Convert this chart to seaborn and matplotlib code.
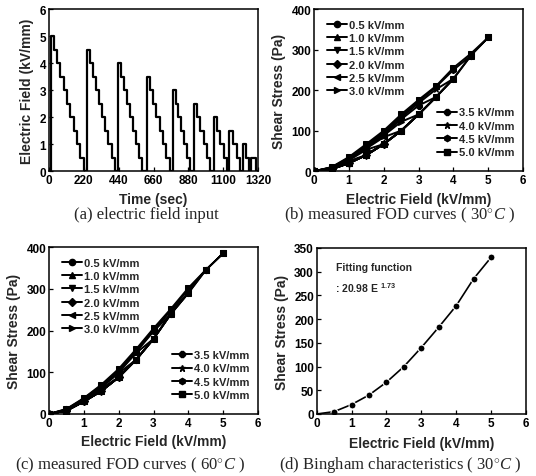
import matplotlib.pyplot as plt
import numpy as np
import pandas as pd
import seaborn as sns
from matplotlib.lines import Line2D

# (a) electric field input: staircase cycles
cycle_peak = [5.0, 4.5, 4.0, 3.5, 3.0, 2.5, 2.0, 1.5, 1.0, 0.5]
cycle_on = [10, 237, 436, 617, 782, 914, 1040, 1139, 1222, 1277]
cycle_off = [218, 415, 589, 761, 889, 1019, 1124, 1208, 1266, 1308]

# field levels for the FOD curves
field_levels = [0.0, 0.5, 1.0, 1.5, 2.0, 2.5, 3.0, 3.5, 4.0, 4.5, 5.0]
curve_fields = [0.5, 1.0, 1.5, 2.0, 2.5, 3.0, 3.5, 4.0, 4.5, 5.0]
curve_labels = ['0.5 kV/mm', '1.0 kV/mm', '1.5 kV/mm', '2.0 kV/mm', '2.5 kV/mm',
                '3.0 kV/mm', '3.5 kV/mm', '4.0 kV/mm', '4.5 kV/mm', '5.0 kV/mm']
curve_markers = ['o', '^', 'v', 'D', '<', '>', '8', '*', 'h', 's']

# (b) 30 C: rising branch (envelope) and falling branches (peak -> 0)
rise_30 = [0, 5, 20, 40, 67, 100, 140, 183, 228, 285, 330]
fall_30 = [
    [5, 0],
    [20, 6, 0],
    [40, 25, 7, 0],
    [67, 53, 27, 8, 0],
    [100, 84, 56, 29, 8, 0],
    [140, 122, 88, 58, 30, 8, 0],
    [183, 162, 128, 91, 60, 31, 9, 0],
    [228, 202, 168, 132, 94, 62, 32, 9, 0],
    [285, 250, 208, 172, 136, 97, 64, 33, 9, 0],
    [330, 290, 255, 210, 176, 140, 100, 67, 35, 10, 0],
]

# (c) 60 C
rise_60 = [0, 8, 30, 55, 88, 130, 180, 240, 290, 345, 385]
fall_60 = [
    [8, 0],
    [30, 9, 0],
    [55, 31, 9, 0],
    [88, 61, 32, 9, 0],
    [130, 98, 63, 33, 10, 0],
    [180, 146, 100, 65, 34, 10, 0],
    [240, 198, 148, 102, 66, 35, 10, 0],
    [290, 248, 200, 150, 104, 67, 36, 11, 0],
    [345, 298, 250, 202, 152, 105, 68, 37, 11, 0],
    [385, 345, 302, 252, 205, 155, 108, 70, 38, 12, 0],
]

# (d) Bingham characteristics 30 C
bingham_field = [0.0, 0.5, 1.0, 1.5, 2.0, 2.5, 3.0, 3.5, 4.0, 4.5, 5.0]
bingham_stress = [0, 5, 20, 40, 67, 100, 140, 183, 228, 285, 330]

sns.set_theme(style='ticks')
plt.rcParams['font.family'] = ['Liberation Sans', 'DejaVu Sans']
plt.rcParams['font.weight'] = 'bold'
plt.rcParams['axes.labelweight'] = 'bold'
plt.rcParams['mathtext.fontset'] = 'custom'
plt.rcParams['mathtext.rm'] = 'Liberation Serif:weight=normal'
plt.rcParams['mathtext.it'] = 'Liberation Serif:style=italic:weight=normal'
plt.rcParams['mathtext.sf'] = 'Liberation Sans:weight=bold'

fig = plt.figure(figsize=(5.36, 4.77), dpi=100)
ax_a = fig.add_axes([0.0914, 0.639, 0.39, 0.340])
ax_b = fig.add_axes([0.586, 0.639, 0.39, 0.340])
ax_c = fig.add_axes([0.0914, 0.130, 0.39, 0.350])
ax_d = fig.add_axes([0.591, 0.130, 0.39, 0.348])


def style_axes(ax):
    for s in ax.spines.values():
        s.set_color('black')
        s.set_linewidth(1.1)
    ax.tick_params(direction='in', length=3, width=0.9, labelsize=8.5,
                   pad=2, colors='black')


# ---- (a) staircase
t_pts, e_pts = [0], [0.0]
for peak, t_on, t_off in zip(cycle_peak, cycle_on, cycle_off):
    n = int(round(peak / 0.5))
    edges = np.linspace(t_on, t_off, n + 1)
    for k in range(n):
        t_pts.append(edges[k])
        e_pts.append(peak - 0.5 * k)
    t_pts.append(t_off)
    e_pts.append(0.0)
t_pts.append(1320)
e_pts.append(0.0)
df_a = pd.DataFrame({'t': t_pts, 'E': e_pts})
sns.lineplot(data=df_a, x='t', y='E', sort=False, estimator=None,
             drawstyle='steps-post', color='black', lw=1.6, ax=ax_a)
ax_a.set_xlim(0, 1320)
ax_a.set_ylim(0, 6)
ax_a.set_xticks([0, 220, 440, 660, 880, 1100, 1320])
ax_a.set_yticks(range(7))
ax_a.set_xlabel('Time (sec)', fontsize=10, labelpad=4)
ax_a.set_ylabel('Electric Field (kV/mm)', fontsize=10, labelpad=4)
style_axes(ax_a)


# ---- (b), (c) FOD curves
def draw_fod(ax, rise, falls, ymax):
    for i, peak in enumerate(curve_fields):
        n = field_levels.index(peak)
        xs = field_levels[:n + 1] + field_levels[n::-1]
        ys = rise[:n + 1] + falls[i]
        df = pd.DataFrame({'E': xs, 'tau': ys})
        sns.lineplot(data=df, x='E', y='tau', sort=False, estimator=None,
                     color='black', lw=1.4, marker=curve_markers[i],
                     markersize=4.5, markeredgecolor='black', ax=ax)
    h = [Line2D([], [], color='black', lw=1.4, marker=m, markersize=4.5)
         for m in curve_markers]
    leg_kw = dict(frameon=False, prop={'size': 8, 'weight': 'bold'},
                  handlelength=1.8, handletextpad=0.15, labelspacing=0.3,
                  borderpad=0.3)
    leg1 = ax.legend(h[:6], curve_labels[:6], loc='upper left',
                     bbox_to_anchor=(0.02, 0.99), **leg_kw)
    ax.add_artist(leg1)
    ax.legend(h[6:], curve_labels[6:], loc='lower right',
              bbox_to_anchor=(1.0, 0.03), **leg_kw)
    ax.set_xlim(0, 6)
    ax.set_ylim(0, ymax)
    ax.set_xticks(range(7))
    ax.set_yticks(range(0, ymax + 1, 100))
    ax.set_xlabel('Electric Field (kV/mm)', fontsize=10, labelpad=4)
    ax.set_ylabel('Shear Stress (Pa)', fontsize=10, labelpad=4)
    style_axes(ax)


draw_fod(ax_b, rise_30, fall_30, 400)
draw_fod(ax_c, rise_60, fall_60, 400)

# ---- (d) Bingham
df_d = pd.DataFrame({'E': bingham_field, 'tau': bingham_stress})
sns.lineplot(data=df_d, x='E', y='tau', color='black', lw=1.2, marker='o',
             markersize=5, markevery=list(range(1, len(bingham_field))),
             ax=ax_d)
ax_d.set_xlim(0, 6)
ax_d.set_ylim(0, 350)
ax_d.set_xticks(range(7))
ax_d.set_yticks(range(0, 351, 50))
ax_d.set_xlabel('Electric Field (kV/mm)', fontsize=10, labelpad=5)
ax_d.set_ylabel('Shear Stress (Pa)', fontsize=10, labelpad=4)
ax_d.text(0.09, 0.885, 'Fitting function', transform=ax_d.transAxes,
          fontsize=7.5, va='center')
ax_d.text(0.085, 0.765, r': 20.98 E $^{\mathsf{1.73}}$', transform=ax_d.transAxes,
          fontsize=7.5, va='center')
style_axes(ax_d)

# captions
cap = dict(fontsize=12, family='Liberation Serif', weight='normal',
           ha='center', va='center')
fig.text(0.274, 0.549, '(a) electric field input', **cap)
fig.text(0.746, 0.549, r'(b) measured FOD curves ( $30^{\circ}C$ )', **cap)
fig.text(0.243, 0.025, r'(c) measured FOD curves ( $60^{\circ}C$ )', **cap)
fig.text(0.746, 0.025, r'(d) Bingham characteristics ( $30^{\circ}C$ )', **cap)

fig.savefig('out.png', dpi=100)
